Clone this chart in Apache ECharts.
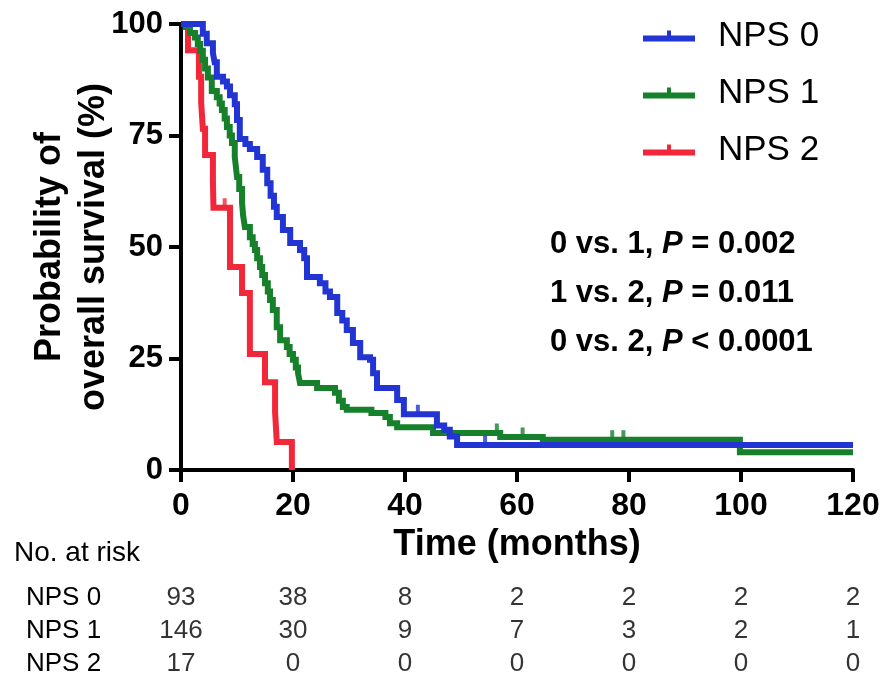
<!DOCTYPE html>
<html>
<head>
<meta charset="utf-8">
<script src="https://cdn.jsdelivr.net/npm/echarts@6/dist/echarts.min.js"></script>
<style>
html,body{margin:0;padding:0;background:#fff;}
#chart{width:885px;height:680px;}
</style>
</head>
<body>
<div id="chart"></div>
<script>
// ---- Data ----
const seriesNames = ['NPS 0', 'NPS 1', 'NPS 2'];
const seriesColors = ['#2235D3', '#17802A', '#F0283A'];

const nps0Time = [0, 3.9, 4.6, 5.7, 6.0, 6.4, 7.5, 8.2, 8.75, 9.6, 10.0, 10.5, 11.5, 12.3, 13.6, 14.6, 15.4, 16.0, 16.6, 17.1, 18.2, 19.5, 21.25, 22.0, 22.5, 24.8, 25.8, 26.6, 27.9, 28.8, 29.6, 30.7, 32.0, 33.75, 34.3, 35.0, 38.6, 39.8, 45.7, 47.0, 48.0, 49.3, 120];
const nps0Surv = [100, 97.8, 95.7, 93.5, 91.4, 88.2, 87.1, 86.0, 84.0, 82.0, 78.5, 74.2, 73.1, 72.0, 70.2, 67.3, 64.3, 61.5, 59.0, 56.7, 53.8, 50.9, 49.3, 47.5, 43.3, 41.9, 40.0, 38.8, 35.2, 33.5, 31.4, 28.5, 25.3, 24.7, 21.7, 18.4, 15.7, 12.5, 10.0, 9.0, 7.5, 5.6, 5.6];
const nps0CensorTime = [42.3, 54.3];
const nps0CensorSurv = [12.5, 5.6];

const nps1Time = [0, 0.8, 1.6, 2.5, 3.0, 3.4, 3.9, 4.3, 4.8, 5.5, 6.4, 6.9, 7.3, 7.8, 8.2, 8.7, 9.1, 9.6, 9.8, 10.0, 10.4, 10.9, 11.1, 11.4, 12.3, 12.8, 13.2, 13.6, 14.1, 14.5, 15.0, 15.5, 15.9, 16.4, 17.1, 17.7, 18.9, 19.4, 20.0, 20.5, 20.9, 21.25, 24.3, 27.5, 28.2, 28.9, 29.6, 34.0, 36.5, 37.3, 38.6, 45.0, 57.0, 64.6, 99.8, 120];
const nps1Surv = [100, 99.3, 98.0, 97.0, 95.5, 94.0, 92.0, 90.0, 88.0, 85.0, 83.6, 82.2, 80.7, 78.8, 76.9, 75.0, 73.3, 70.2, 68.0, 65.7, 63.0, 59.9, 57.0, 54.5, 52.2, 50.7, 49.3, 47.5, 45.5, 43.7, 41.9, 40.0, 38.1, 35.9, 32.0, 29.1, 27.6, 26.0, 24.7, 23.0, 21.7, 19.5, 18.4, 17.3, 15.5, 14.1, 13.5, 12.8, 11.9, 10.5, 9.6, 8.3, 7.4, 6.8, 4.0, 4.0];
const nps1CensorTime = [56.4, 61.0, 77.0, 79.0];
const nps1CensorSurv = [8.3, 7.4, 6.8, 6.8];

const nps2Time = [0, 1.25, 3.2, 3.6, 3.9, 4.3, 5.7, 5.8, 8.75, 10.9, 12.3, 15.0, 16.8, 17.1, 19.8];
const nps2Surv = [100, 94.1, 88.2, 82.4, 76.5, 70.6, 64.7, 58.8, 45.5, 39.7, 26.0, 19.7, 13.0, 6.3, 0];
const nps2CensorTime = [7.8];
const nps2CensorSurv = [58.8];

const xTicks = [0, 20, 40, 60, 80, 100, 120];
const yTicks = [0, 25, 50, 75, 100];

const riskTimes = [0, 20, 40, 60, 80, 100, 120];
const riskNps0 = [93, 38, 8, 2, 2, 2, 2];
const riskNps1 = [146, 30, 9, 7, 3, 2, 1];
const riskNps2 = [17, 0, 0, 0, 0, 0, 0];

const pLines = [
  ['0 vs. 1, ', 'P', ' = 0.002'],
  ['1 vs. 2, ', 'P', ' = 0.011'],
  ['0 vs. 2, ', 'P', ' < 0.0001']
];

// ---- Build chart ----
const FONT = '"Liberation Sans", Arial, Helvetica, sans-serif';

const zip = (a, b) => a.map((v, i) => [v, b[i]]);
const curves = [zip(nps0Time, nps0Surv), zip(nps1Time, nps1Surv), zip(nps2Time, nps2Surv)];
const censors = [zip(nps0CensorTime, nps0CensorSurv), zip(nps1CensorTime, nps1CensorSurv), zip(nps2CensorTime, nps2CensorSurv)];
const riskRows = [riskNps0, riskNps1, riskNps2];

const series = [];
// draw order: red, green, blue (blue on top)
[2, 1, 0].forEach(i => {
  series.push({
    name: seriesNames[i],
    type: 'line',
    step: 'end',
    data: curves[i],
    showSymbol: false,
    symbol: 'none',
    clip: false,
    color: seriesColors[i],
    lineStyle: { width: 6, color: seriesColors[i], join: 'miter' },
    z: 3 + (2 - i),
    xAxisIndex: 0, yAxisIndex: 0
  });
  series.push({
    name: seriesNames[i] + ' censored',
    type: 'scatter',
    data: censors[i],
    symbol: 'rect',
    symbolSize: [4, 9],
    symbolOffset: [0, -5],
    itemStyle: { color: seriesColors[i] },
    clip: false,
    z: 3 + (2 - i),
    xAxisIndex: 0, yAxisIndex: 0
  });
});

const riskData = [];
riskRows.forEach((row, r) => {
  row.forEach((n, k) => riskData.push([riskTimes[k], r, n]));
});
series.push({
  name: 'risk',
  type: 'scatter',
  xAxisIndex: 1, yAxisIndex: 1,
  data: riskData,
  symbolSize: 0,
  encode: { x: 0, y: 1 },
  label: {
    show: true, position: 'inside',
    formatter: p => String(p.value[2]),
    fontFamily: FONT, fontSize: 26, color: '#000'
  },
  silent: true
});

const rich = {
  b: { fontFamily: FONT, fontWeight: 'bold', fontSize: 31, color: '#000' },
  i: { fontFamily: FONT, fontWeight: 'bold', fontStyle: 'italic', fontSize: 31, color: '#000' }
};

const option = {
  animation: false,
  backgroundColor: '#fff',
  grid: [
    { left: 181, right: 32, top: 24, bottom: 210 },
    { left: 181, right: 32, top: 581, height: 102 }
  ],
  legend: {
    data: seriesNames,
    orient: 'vertical',
    left: 638, top: 11,
    itemWidth: 52, itemHeight: 12, itemGap: 17,
    icon: 'path://M0,5L52,5L52,11L0,11Z M24,0L28,0L28,5L24,5Z',
    textStyle: { fontFamily: FONT, fontSize: 35, color: '#000', lineHeight: 40, padding: [0, 0, 0, 18] },
    selectedMode: false
  },
  xAxis: [{
    type: 'value', gridIndex: 0, min: 0, max: 120, interval: 20,
    name: 'Time (months)', nameLocation: 'middle', nameGap: 57,
    nameMoveOverlap: false,
    nameTextStyle: { fontFamily: FONT, fontWeight: 'bold', fontSize: 36, color: '#000' },
    axisLine: { show: true, lineStyle: { color: '#000', width: 4 } },
    axisTick: { show: true, length: 12, lineStyle: { color: '#000', width: 4 } },
    axisLabel: { margin: 20, fontFamily: FONT, fontWeight: 'bold', fontSize: 32, color: '#000',
      formatter: v => xTicks.indexOf(v) >= 0 ? String(v) : '' },
    splitLine: { show: false }
  }, {
    type: 'value', gridIndex: 1, min: 0, max: 120, show: false
  }],
  yAxis: [{
    type: 'value', gridIndex: 0, min: 0, max: 100, interval: 25,
    name: 'Probability of\noverall survival (%)', nameLocation: 'middle', nameGap: 65,
    nameMoveOverlap: false,
    nameTextStyle: { fontFamily: FONT, fontWeight: 'bold', fontSize: 36, color: '#000', lineHeight: 44 },
    axisLine: { show: true, lineStyle: { color: '#000', width: 4 } },
    axisTick: { show: true, length: 12, lineStyle: { color: '#000', width: 4 } },
    axisLabel: { margin: 18, fontFamily: FONT, fontWeight: 'bold', fontSize: 31, color: '#000',
      formatter: v => yTicks.indexOf(v) >= 0 ? String(v) : '' },
    splitLine: { show: false }
  }, {
    type: 'category', gridIndex: 1, inverse: true,
    data: seriesNames,
    axisLine: { show: false }, axisTick: { show: false }, splitLine: { show: false },
    axisLabel: { interval: 0, align: 'left', margin: 155, fontFamily: FONT, fontSize: 26, color: '#000' }
  }],
  graphic: [
    { type: 'text', left: 14, top: 539, style: { text: 'No. at risk', fontFamily: FONT, fontSize: 28, fill: '#000' } }
  ].concat(pLines.map((l, k) => ({
    type: 'text', left: 550, top: 229 + k * 49,
    style: { text: '{b|' + l[0] + '}{i|' + l[1] + '}{b|' + l[2] + '}', rich: rich }
  }))),
  series: series
};

const chart = echarts.init(document.getElementById('chart'), null, { renderer: 'canvas' });
chart.setOption(option);
</script>
</body>
</html>
